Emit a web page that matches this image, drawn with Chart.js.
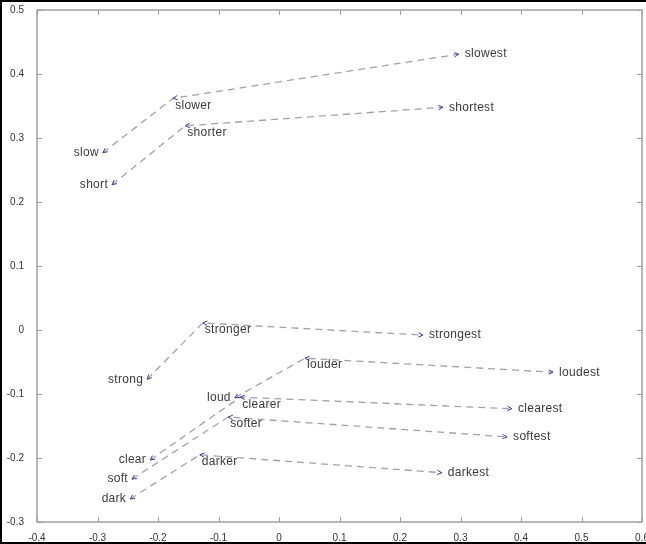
<!DOCTYPE html>
<html>
<head>
<meta charset="utf-8">
<script src="https://cdn.jsdelivr.net/npm/chart.js@4/dist/chart.umd.min.js"></script>
<style>
  html, body { margin: 0; padding: 0; background: #fff; }
  #frame { width: 646px; height: 544px; box-sizing: border-box; border: 2px solid #000; border-right: none; }
  canvas { display: block; }
</style>
</head>
<body>
<div id="frame"><canvas id="wordChart" width="644" height="540"></canvas></div>
<script>
// --- Dados: adjetivos e formas comparativas / superlativas ---
const baseWords = ["slow", "short", "strong", "loud", "clear", "soft", "dark"];
const compWords = ["slower", "shorter", "stronger", "louder", "clearer", "softer", "darker"];
const supWords = ["slowest", "shortest", "strongest", "loudest", "clearest", "softest", "darkest"];

const baseX = [-0.291, -0.276, -0.218, -0.073, -0.213, -0.243, -0.246];
const baseY = [0.277, 0.227, -0.077, -0.106, -0.203, -0.233, -0.264];
const compX = [-0.175, -0.155, -0.126, 0.043, -0.064, -0.084, -0.131];
const compY = [0.362, 0.319, 0.011, -0.044, -0.105, -0.136, -0.195];
const supX = [0.297, 0.271, 0.238, 0.453, 0.385, 0.377, 0.269];
const supY = [0.431, 0.348, -0.008, -0.066, -0.123, -0.167, -0.223];

const xTicks = [-0.4, -0.3, -0.2, -0.1, 0, 0.1, 0.2, 0.3, 0.4, 0.5, 0.6];
const yTicks = [-0.3, -0.2, -0.1, 0, 0.1, 0.2, 0.3, 0.4, 0.5];

const datasets = baseWords.map((w, i) => ({
  label: w,
  data: [
    { x: baseX[i], y: baseY[i] },
    { x: compX[i], y: compY[i] },
    { x: supX[i], y: supY[i] },
  ],
  showLine: true,
  borderColor: "#a0a0b0",
  borderWidth: 1.3,
  borderDash: [7, 5],
  pointRadius: 0,
  tension: 0,
  fill: false,
}));

// Setas pequenas nas extremidades
function arrowHead(ctx, fx, fy, tx, ty) {
  const a = Math.atan2(ty - fy, tx - fx);
  const len = 5;
  ctx.beginPath();
  ctx.moveTo(tx, ty);
  ctx.lineTo(tx - len * Math.cos(a - 0.45), ty - len * Math.sin(a - 0.45));
  ctx.moveTo(tx, ty);
  ctx.lineTo(tx - len * Math.cos(a + 0.45), ty - len * Math.sin(a + 0.45));
  ctx.stroke();
}

const wordPlugin = {
  id: "wordLabels",
  afterDatasetsDraw(chart) {
    const { ctx, scales } = chart;
    const px = (v) => scales.x.getPixelForValue(v);
    const py = (v) => scales.y.getPixelForValue(v);
    ctx.save();
    ctx.strokeStyle = "#3a3a9a";
    ctx.lineWidth = 1;
    baseWords.forEach((w, i) => {
      const bx = px(baseX[i]), by = py(baseY[i]);
      const cx = px(compX[i]), cy = py(compY[i]);
      const sx = px(supX[i]), sy = py(supY[i]);
      arrowHead(ctx, cx, cy, bx, by);
      arrowHead(ctx, sx, sy, cx, cy);
      arrowHead(ctx, cx, cy, sx, sy);
    });
    ctx.fillStyle = "#3a3a3a";
    ctx.font = "12px 'Liberation Sans', Arial, sans-serif";
    ctx.letterSpacing = "0.3px";
    ctx.textBaseline = "middle";
    baseWords.forEach((w, i) => {
      ctx.textAlign = "right";
      ctx.fillText(w, px(baseX[i]) - 4, py(baseY[i]));
      ctx.textAlign = "left";
      ctx.fillText(compWords[i], px(compX[i]) + 2, py(compY[i]) + 7);
      ctx.fillText(supWords[i], px(supX[i]) + 6, py(supY[i]));
    });
    ctx.restore();
  },
};

// Moldura e marcas internas dos eixos (estilo MATLAB)
const boxPlugin = {
  id: "boxTicks",
  afterDraw(chart) {
    const { ctx, chartArea: a, scales } = chart;
    ctx.save();
    ctx.strokeStyle = "#a0a0a0";
    ctx.lineWidth = 1.5;
    ctx.strokeRect(a.left, a.top, a.right - a.left, a.bottom - a.top);
    ctx.lineWidth = 1;
    ctx.beginPath();
    xTicks.forEach((t) => {
      const x = Math.round(scales.x.getPixelForValue(t)) + 0.5;
      ctx.moveTo(x, a.bottom);
      ctx.lineTo(x, a.bottom - 5);
      ctx.moveTo(x, a.top);
      ctx.lineTo(x, a.top + 5);
    });
    yTicks.forEach((t) => {
      const y = Math.round(scales.y.getPixelForValue(t)) + 0.5;
      ctx.moveTo(a.left, y);
      ctx.lineTo(a.left + 5, y);
      ctx.moveTo(a.right, y);
      ctx.lineTo(a.right - 5, y);
    });
    ctx.stroke();
    ctx.restore();
  },
};

new Chart(document.getElementById("wordChart").getContext("2d"), {
  type: "scatter",
  data: { datasets: datasets },
  options: {
    responsive: false,
    animation: false,
    layout: { autoPadding: false, padding: { top: 8, right: 4, left: 0, bottom: 0 } },
    plugins: { legend: { display: false }, tooltip: { enabled: false } },
    scales: {
      x: {
        type: "linear",
        min: -0.4,
        max: 0.6,
        afterBuildTicks: (s) => { s.ticks = xTicks.map((v) => ({ value: v })); },
        afterFit: (s) => { s.height = 20; s.paddingLeft = 0; s.paddingRight = 0; },
        grid: { display: false },
        border: { display: false },
        ticks: {
          color: "#333",
          font: { family: "'Liberation Sans', Arial, sans-serif", size: 10 },
          padding: 2,
          maxRotation: 0,
          callback: (v) => String(Math.round(v * 10) / 10),
        },
      },
      y: {
        type: "linear",
        min: -0.3,
        max: 0.5,
        afterBuildTicks: (s) => { s.ticks = yTicks.map((v) => ({ value: v })); },
        afterFit: (s) => { s.width = 35; s.paddingTop = 0; s.paddingBottom = 0; },
        grid: { display: false },
        border: { display: false },
        ticks: {
          color: "#333",
          font: { family: "'Liberation Sans', Arial, sans-serif", size: 10 },
          padding: 5,
          callback: (v) => String(Math.round(v * 10) / 10),
        },
      },
    },
  },
  plugins: [wordPlugin, boxPlugin],
});
</script>
</body>
</html>
